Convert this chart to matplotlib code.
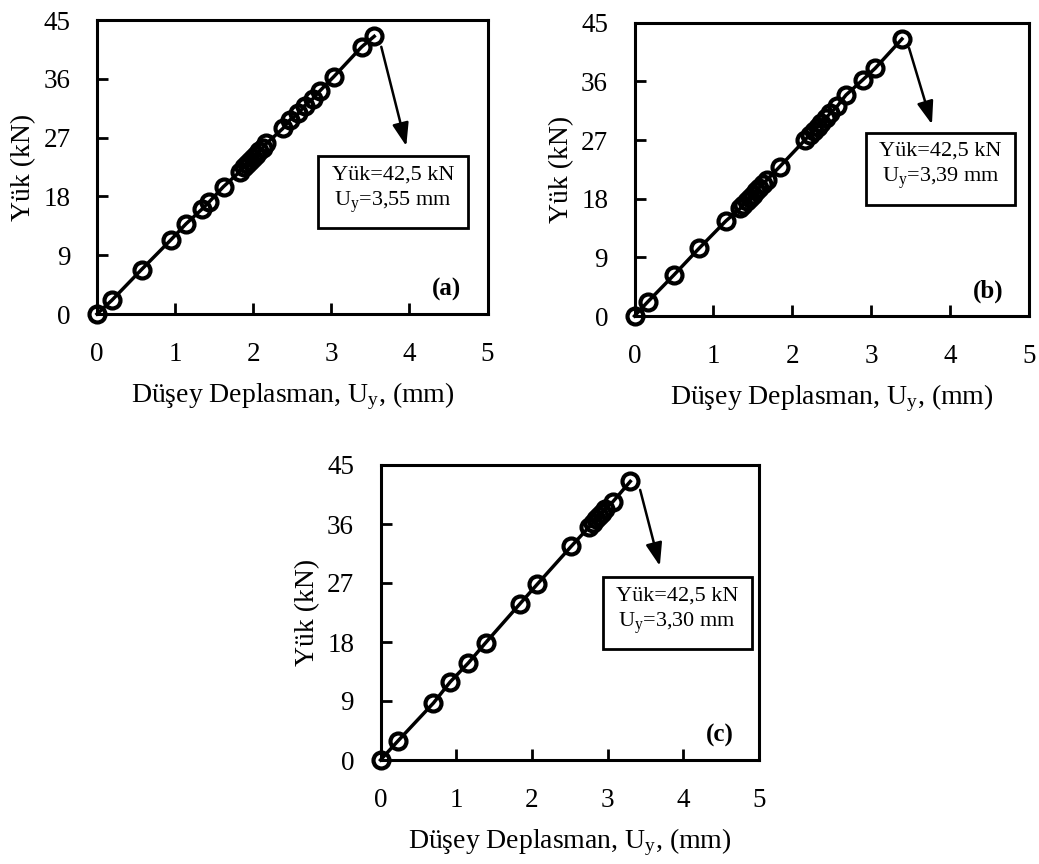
import matplotlib
matplotlib.use('Agg')
import matplotlib.pyplot as plt

plt.rcParams['font.family'] = ['Liberation Serif', 'DejaVu Serif']
plt.rcParams['mathtext.fontset'] = 'custom'
plt.rcParams['mathtext.rm'] = 'Liberation Serif'
plt.rcParams['mathtext.it'] = 'Liberation Serif:italic'

# (a) deney verisi
ux_a = [0, 0.19, 0.57, 0.95, 1.14, 1.34, 1.44, 1.62, 1.83, 1.88, 1.92, 1.96, 2.00,
        2.04, 2.08, 2.12, 2.17, 2.38, 2.47, 2.58, 2.66, 2.76, 2.85, 3.03, 3.39, 3.55]
yuk_a = [0, 2.1, 6.8, 11.4, 13.8, 16.0, 17.2, 19.5, 21.8, 22.5, 23.0, 23.4, 23.9,
         24.4, 24.9, 25.4, 26.1, 28.4, 29.7, 30.7, 31.9, 32.9, 34.1, 36.3, 40.9, 42.5]

# (b)
ux_b = [0, 0.17, 0.50, 0.82, 1.16, 1.34, 1.38, 1.42, 1.46, 1.50, 1.54, 1.58, 1.63,
        1.68, 1.84, 2.16, 2.22, 2.27, 2.32, 2.37, 2.43, 2.48, 2.57, 2.68, 2.89, 3.05, 3.39]
yuk_b = [0, 2.2, 6.3, 10.4, 14.6, 16.5, 17.1, 17.6, 18.1, 18.6, 19.2, 19.7, 20.3,
         20.9, 22.9, 27.0, 27.8, 28.4, 29.0, 29.6, 30.4, 31.1, 32.2, 33.9, 36.2, 38.0, 42.5]

# (c)
ux_c = [0, 0.23, 0.70, 0.92, 1.16, 1.39, 1.84, 2.07, 2.52, 2.76, 2.81, 2.85, 2.89,
        2.93, 2.97, 3.07, 3.30]
yuk_c = [0, 2.9, 8.7, 11.9, 14.8, 17.9, 23.8, 26.8, 32.6, 35.6, 36.2, 36.7, 37.2,
         37.7, 38.3, 39.4, 42.5]

panels = [
    # veri, eksen konumu, kutu metni, kutu merkezi, ok başı/ucu, etiket
    (ux_a, yuk_a, [97/1039, 1 - 314/864, 390.5/1039, 294/864],
     'Yük=42,5 kN\nU$_\\mathrm{y}$=3,55 mm', (3.79, 19.0), (3.64, 40.9), (3.96, 25.7), '(a)'),
    (ux_b, yuk_b, [634.5/1039, 1 - 316/864, 394.5/1039, 293.3/864],
     'Yük=42,5 kN\nU$_\\mathrm{y}$=3,39 mm', (3.88, 22.9), (3.48, 41.1), (3.77, 29.4), '(b)'),
    (ux_c, yuk_c, [380.5/1039, 1 - 760/864, 378.5/1039, 295/864],
     'Yük=42,5 kN\nU$_\\mathrm{y}$=3,30 mm', (3.92, 22.7), (3.43, 41.2), (3.69, 29.6), '(c)'),
]

fig = plt.figure(figsize=(10.39, 8.64), dpi=100)

for ux, yuk, rect, box_txt, box_xy, arr_from, arr_to, etiket in panels:
    ax = fig.add_axes(rect)
    ax.plot(ux, yuk, color='black', lw=2.5, marker='o', markersize=11.5,
            markerfacecolor='none', markeredgewidth=3, clip_on=False, zorder=3)
    ax.set_xlim(0, 5)
    ax.set_ylim(0, 45)
    ax.set_xticks(range(0, 6))
    ax.set_yticks(range(0, 46, 9))
    ax.tick_params(direction='in', length=8, width=2, labelsize=19.5)
    ax.tick_params(axis='x', pad=20)
    ax.tick_params(axis='y', pad=19)
    for s in ax.spines.values():
        s.set_linewidth(2.2)
    ax.set_xlabel('Düşey Deplasman, U$_\\mathrm{y}$, (mm)', fontsize=20, labelpad=10)
    ax.set_ylabel('Yük (kN)', fontsize=20, labelpad=5)

    ax.annotate('', xy=arr_to, xytext=arr_from,
                arrowprops=dict(arrowstyle='-|>,head_length=1.4,head_width=0.5',
                                color='black', lw=1.8, shrinkA=0, shrinkB=0))
    ax.text(box_xy[0], box_xy[1], box_txt, ha='center', va='center', fontsize=16,
            linespacing=1.3,
            bbox=dict(boxstyle='square,pad=0.6', facecolor='white',
                      edgecolor='black', linewidth=2))
    ax.text(4.48, 3.8, etiket, ha='center', va='center', fontsize=18,
            fontweight='bold')

fig.savefig('out.png', dpi=100)
